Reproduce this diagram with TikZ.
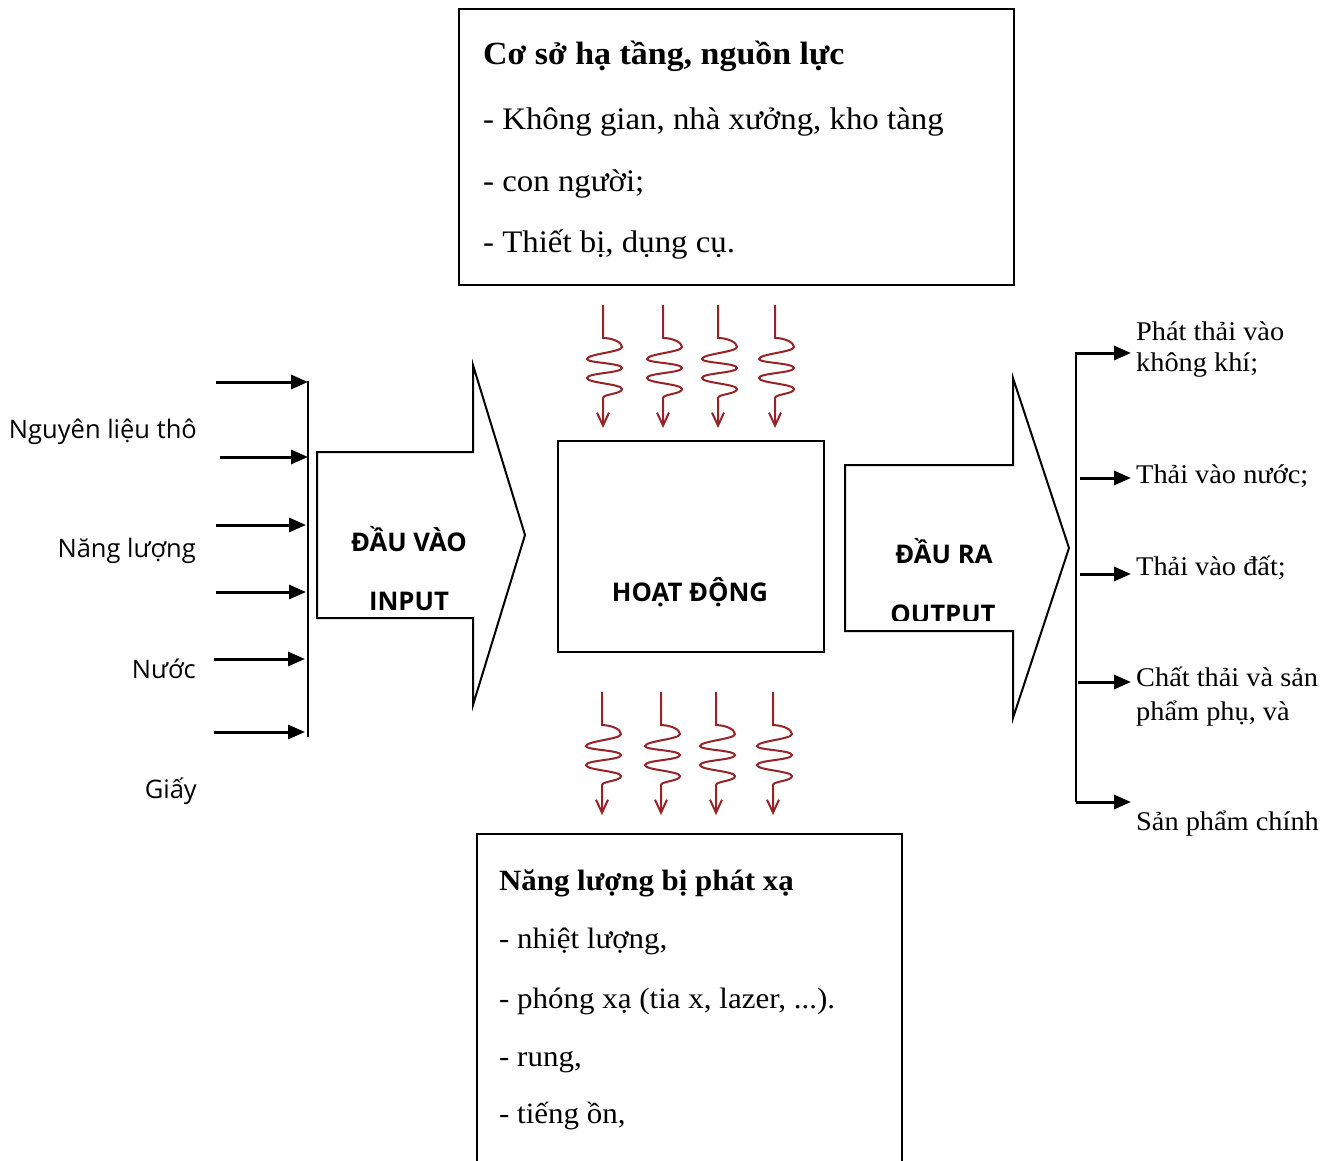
\documentclass[tikz,border=0pt]{standalone}
\usepackage{fontspec}
\setmainfont{Liberation Serif}[FakeStretch=1.05]
\newfontfamily\labelsans{Open Sans}
\usetikzlibrary{arrows.meta}

\definecolor{wavered}{RGB}{150,35,38}

\tikzset{
  frame/.style={draw=black, line width=2pt},
  bus/.style={draw=black, line width=2pt},
  feed/.style={draw=black, line width=3pt, -{Triangle[length=17pt,width=14pt]}},
  wave/.style={draw=wavered, line width=2pt, -{Straight Barb[length=13pt,width=12pt]}},
  bodytext/.style={inner sep=0pt, anchor=base west, font=\fontsize{31.3}{36}\selectfont},
  headtext/.style={bodytext, font=\fontsize{32.3}{36}\selectfont\bfseries},
  smalltext/.style={inner sep=0pt, anchor=base west, font=\fontsize{27}{32}\selectfont},
  lowtext/.style={inner sep=0pt, anchor=base west, font=\fontsize{29.5}{32}\selectfont},
  lowhead/.style={lowtext, font=\fontsize{29.4}{32}\selectfont\bfseries},
  sidelabel/.style={inner sep=0pt, anchor=base east, font=\labelsans\fontsize{25.5}{28}\selectfont},
  capslabel/.style={inner sep=0pt, anchor=base, font=\labelsans\bfseries\fontsize{25.7}{28}\selectfont},
  pics/wavearrow/.style={code={
    \draw[wave] (0,0) -- (0,33)
      .. controls (9,33) and (19,37) .. (19,42)
      .. controls (19,47) and (-16,49) .. (-16,54)
      .. controls (-16,58) and (19,58) .. (19,63)
      .. controls (19,68) and (-16,68) .. (-16,73)
      .. controls (-16,78) and (19,79) .. (19,84)
      .. controls (19,89) and (0,89) .. (0,93)
      -- (0,123);
  }}
}

\begin{document}
\begin{tikzpicture}[x=1pt, y=-1pt]
\useasboundingbox (0,0) rectangle (1331,1161);
\clip (0,0) rectangle (1331,1161);

% infrastructure and resources
\node[frame, minimum width=555pt, minimum height=276pt, inner sep=0pt] (infra) at (736.5,147) {};
\node[headtext] (infraT) at (483,65) {Cơ sở hạ tầng, nguồn lực};
\node[bodytext] (infra1) at (483,130) {- Không gian, nhà xưởng, kho tàng};
\node[bodytext] (infra2) at (483,192) {- con người;};
\node[bodytext] (infra3) at (483,253) {- Thiết bị, dụng cụ.};

% resources flowing into the activity
\pic (wt1) at (603,305) {wavearrow};
\pic (wt2) at (663,305) {wavearrow};
\pic (wt3) at (718,305) {wavearrow};
\pic (wt4) at (775,305) {wavearrow};

% central activity
\node[frame, minimum width=266pt, minimum height=211pt, inner sep=0pt] (act) at (691,546.5) {};
\node[capslabel] (actT) at (690,601) {HOẠT ĐỘNG};

% energy released by the activity
\begin{scope}[yscale=0.9]
\pic (wb1) at (602,769) {wavearrow};
\pic (wb2) at (661,769) {wavearrow};
\pic (wb3) at (716,769) {wavearrow};
\pic (wb4) at (773,769) {wavearrow};
\end{scope}

\coordinate (emL) at (477,1180);
\coordinate (emR) at (902,1180);
\draw[frame] (emL) -- (477,834) -- (902,834) -- (emR);
\node[lowhead] (emT) at (499,890) {Năng lượng bị phát xạ};
\node[lowtext] (em1) at (499,948) {- nhiệt lượng,};
\node[lowtext] (em2) at (499,1008) {- phóng xạ (tia x, lazer, ...).};
\node[lowtext] (em3) at (499,1066) {- rung,};
\node[lowtext] (em4) at (499,1123) {- tiếng ồn,};

% input block arrow
\draw[frame, line join=miter] (317,452) -- (473,452) -- (473,365) -- (525,535)
  -- (473,705) -- (473,618) -- (317,618) -- cycle;
\node[capslabel] (inT1) at (409,551) {ĐẦU VÀO};
\node[capslabel] (inT2) at (409,610) {INPUT};

% output block arrow
\draw[frame, line join=miter] (845,465) -- (1013,465) -- (1013,378) -- (1069,548)
  -- (1013,718) -- (1013,631) -- (845,631) -- cycle;
\node[capslabel] (outT1) at (944,563) {ĐẦU RA};
\begin{scope}
\clip (850,470) rectangle (1010,620);
\node[capslabel] (outT2) at (943,623) {OUTPUT};
\end{scope}

% inputs on the left
\coordinate (busLt) at (308,381);
\coordinate (busLb) at (308,737);
\draw[bus] (busLt) -- (busLb);
\foreach \n/\xs/\xe/\yy in {1/216/308/382, 2/220/308/457, 3/216/306/525,
                            4/216/306/592, 5/214/305/659, 6/214/305/732} {
  \coordinate (inS\n) at (\xs,\yy);
  \coordinate (inE\n) at (\xe,\yy);
  \draw[feed] (inS\n) -- (inE\n);
}
\node[sidelabel] (lab1) at (197,438) {Nguyên liệu thô};
\node[sidelabel] (lab2) at (196,557) {Năng lượng};
\node[sidelabel] (lab3) at (196,678) {Nước};
\node[sidelabel] (lab4) at (197,798) {Giấy};

% outputs on the right
\coordinate (busRt) at (1076,352);
\coordinate (busRb) at (1076,802);
\draw[bus] (busRt) -- (busRb);
\foreach \n/\xs/\yy in {1/1076/353, 2/1080/478, 3/1080/574, 4/1078/682, 5/1076/802} {
  \coordinate (outS\n) at (\xs,\yy);
  \coordinate (outE\n) at (1131,\yy);
  \draw[feed] (outS\n) -- (outE\n);
}
\node[smalltext] (r1a) at (1136,340) {Phát thải vào};
\node[smalltext] (r1b) at (1136,371) {không khí;};
\node[smalltext] (r2) at (1136,483) {Thải vào nước;};
\node[smalltext] (r3) at (1136,575) {Thải vào đất;};
\node[smalltext] (r4a) at (1136,686) {Chất thải và sản};
\node[smalltext] (r4b) at (1136,720) {phẩm phụ, và};
\node[smalltext] (r5) at (1136,830) {Sản phẩm chính};
\end{tikzpicture}
\end{document}
